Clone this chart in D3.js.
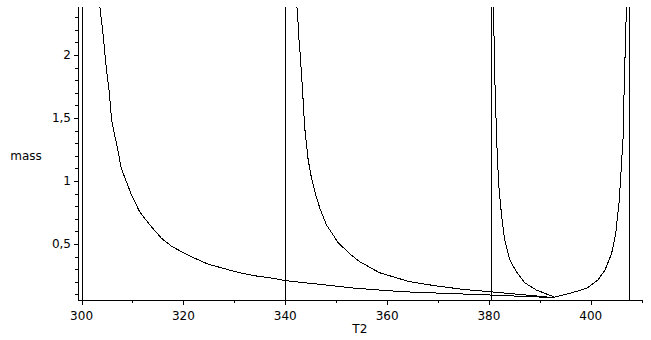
<!DOCTYPE html>
<html>
<head>
<meta charset="utf-8">
<script src="https://cdn.jsdelivr.net/npm/d3@7"></script>
<style>
  body { margin: 0; background: #fff; }
  svg { display: block; }
  text { font-family: "DejaVu Sans", sans-serif; font-size: 12px; fill: #000; }
</style>
</head>
<body>
<svg id="chart" width="651" height="340"></svg>
<script>
// T2 / mass pairs, one array per branch
const branch1 = [
  [303.6, 2.38], [304.2, 2.17], [304.85, 1.90], [305.4, 1.72], [305.9, 1.48],
  [307.1, 1.25], [307.8, 1.10], [309.8, 0.889], [311.4, 0.756], [313.4, 0.651],
  [315.7, 0.545], [317.6, 0.484], [319.6, 0.439], [322.2, 0.387], [324.8, 0.341],
  [327.1, 0.315], [329.7, 0.286], [332.4, 0.260], [334.6, 0.244], [337.6, 0.228],
  [340.1, 0.209], [354.0, 0.148], [363.1, 0.121], [380.2, 0.095], [392.9, 0.074]
];
const branch2 = [
  [342.3, 2.38], [342.5, 2.264], [342.7, 2.119], [343.0, 1.974], [343.2, 1.828],
  [343.4, 1.736], [343.5, 1.643], [343.8, 1.431], [344.5, 1.167], [345.1, 1.034],
  [346.1, 0.875], [346.8, 0.783], [348.1, 0.651], [350.4, 0.510], [352.7, 0.421],
  [354.6, 0.360], [358.5, 0.272], [364.4, 0.201], [369.7, 0.167], [374.9, 0.140],
  [380.2, 0.121], [392.9, 0.074]
];
const branch3 = [
  [380.9, 2.38], [381.1, 1.907], [381.3, 1.603], [381.6, 1.246], [381.9, 0.982],
  [382.5, 0.717], [383.1, 0.532], [384.1, 0.373], [385.4, 0.280], [387.0, 0.193],
  [389.3, 0.135], [392.9, 0.078], [395.9, 0.109], [399.2, 0.148], [401.4, 0.214],
  [402.8, 0.294], [404.1, 0.426], [404.9, 0.585], [405.6, 0.849], [406.0, 1.113],
  [406.4, 1.379], [406.5, 1.643], [406.8, 2.095], [407.0, 2.38]
];
// vertical asymptote lines
const asymptotes = [300, 340, 380.5, 407.5];

const xLabelTicks = [300, 320, 340, 360, 380, 400];
const xMinorTicks = [310, 330, 350, 370, 390, 410];
const yLabelTicks = [0.5, 1, 1.5, 2];
const yMinorTicks = [0.1, 0.2, 0.3, 0.4, 0.6, 0.7, 0.8, 0.9, 1.1, 1.2, 1.3, 1.4,
                     1.6, 1.7, 1.8, 1.9, 2.1, 2.2, 2.3];

const xTitle = 'T2';
const yTitle = 'mass';

const svg = d3.select('#chart');
const pLeft = 78, pRight = 641.7, pTop = 7, pBottom = 300;

const x = d3.scaleLinear().domain([299.3, 410]).range([pLeft, pRight]);
const y = d3.scaleLinear().domain([0.0555, 2.38]).range([pBottom, pTop]);

const locale = d3.formatLocale({decimal: ',', thousands: '.', grouping: [3], currency: ['', '']});
const fmt = locale.format('~g');

svg.append('defs').append('clipPath').attr('id', 'plotclip')
  .append('rect')
  .attr('x', pLeft).attr('y', pTop)
  .attr('width', pRight - pLeft).attr('height', pBottom - pTop);

const plot = svg.append('g').attr('clip-path', 'url(#plotclip)');

// asymptotes
plot.selectAll('line.asym')
  .data(asymptotes)
  .join('line')
  .attr('class', 'asym')
  .attr('x1', d => Math.round(x(d)) + 0.5)
  .attr('x2', d => Math.round(x(d)) + 0.5)
  .attr('y1', pTop)
  .attr('y2', pBottom)
  .attr('stroke', '#000')
  .attr('shape-rendering', 'crispEdges');

const line = d3.line().x(d => x(d[0])).y(d => y(d[1]));
plot.selectAll('path.branch')
  .data([branch1, branch2, branch3])
  .join('path')
  .attr('class', 'branch')
  .attr('d', line)
  .attr('fill', 'none')
  .attr('stroke', '#000')
  .attr('stroke-width', 1)
  .attr('shape-rendering', 'crispEdges');

// x axis
const xAxis = svg.append('g').attr('shape-rendering', 'crispEdges');
xAxis.append('line')
  .attr('x1', pLeft).attr('x2', pRight + 1)
  .attr('y1', pBottom + 0.5).attr('y2', pBottom + 0.5)
  .attr('stroke', '#000');
xAxis.selectAll('line.major')
  .data(xLabelTicks)
  .join('line')
  .attr('class', 'major')
  .attr('x1', d => Math.round(x(d)) + 0.5).attr('x2', d => Math.round(x(d)) + 0.5)
  .attr('y1', pBottom).attr('y2', pBottom + 5)
  .attr('stroke', '#000');
xAxis.selectAll('line.minor')
  .data(xMinorTicks)
  .join('line')
  .attr('class', 'minor')
  .attr('x1', d => Math.round(x(d)) + 0.5).attr('x2', d => Math.round(x(d)) + 0.5)
  .attr('y1', pBottom).attr('y2', pBottom + 3)
  .attr('stroke', '#000');
xAxis.selectAll('text')
  .data(xLabelTicks)
  .join('text')
  .attr('x', d => x(d))
  .attr('y', 319.5)
  .attr('text-anchor', 'middle')
  .text(d => fmt(d));

// y axis
const yAxis = svg.append('g').attr('shape-rendering', 'crispEdges');
yAxis.append('line')
  .attr('x1', pLeft + 0.5).attr('x2', pLeft + 0.5)
  .attr('y1', pTop).attr('y2', pBottom + 1)
  .attr('stroke', '#000');
yAxis.selectAll('line.major')
  .data(yLabelTicks)
  .join('line')
  .attr('class', 'major')
  .attr('x1', pLeft - 4).attr('x2', pLeft)
  .attr('y1', d => Math.round(y(d)) + 0.5).attr('y2', d => Math.round(y(d)) + 0.5)
  .attr('stroke', '#000');
yAxis.selectAll('line.minor')
  .data(yMinorTicks)
  .join('line')
  .attr('class', 'minor')
  .attr('x1', pLeft - 3).attr('x2', pLeft)
  .attr('y1', d => Math.round(y(d)) + 0.5).attr('y2', d => Math.round(y(d)) + 0.5)
  .attr('stroke', '#000');
yAxis.selectAll('text')
  .data(yLabelTicks)
  .join('text')
  .attr('x', 71)
  .attr('y', d => y(d) + 4.5)
  .attr('text-anchor', 'end')
  .text(d => fmt(d));

// titles
svg.append('text')
  .attr('x', (pLeft + pRight) / 2)
  .attr('y', 333)
  .attr('text-anchor', 'middle')
  .text(xTitle);
svg.append('text')
  .attr('x', 26)
  .attr('y', 160)
  .attr('text-anchor', 'middle')
  .text(yTitle);
</script>
</body>
</html>
